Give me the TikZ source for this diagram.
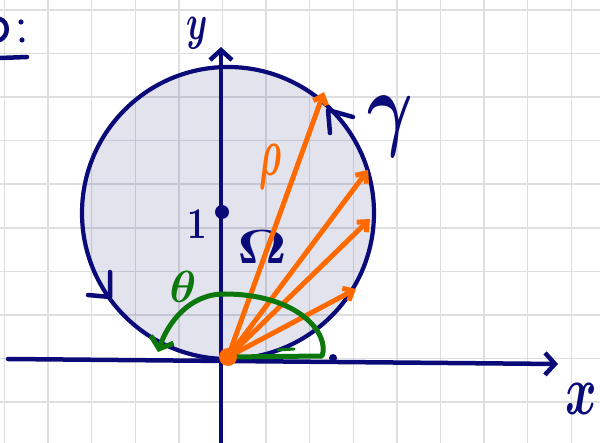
\documentclass[tikz,border=0pt]{standalone}
\usepackage{graphicx}
\usepackage{bm}
\usetikzlibrary{arrows.meta}
\definecolor{navy}{RGB}{10,10,120}
\definecolor{orng}{RGB}{255,106,0}
\definecolor{grn}{RGB}{12,120,12}
\definecolor{gridc}{RGB}{222,222,222}
\definecolor{disc}{RGB}{40,40,130}
\begin{document}
\begin{tikzpicture}[x=1pt,y=-1pt,line cap=round,line join=round,
  gridline/.style={gridc,line width=1.5pt},
  ax/.style={navy,line width=4.5pt,-{Straight Barb[length=10pt,width=22pt]}},
  ray/.style={orng,line width=5pt,-{Straight Barb[length=8pt,width=14pt]}},
  chev/.style={navy,line width=4.5pt},
  lbl/.style={inner sep=0pt}]
\useasboundingbox (0,0) rectangle (600,443);
\fill[white] (0,0) rectangle (600,443);
\foreach \k in {0,...,13} \draw[gridline] ({4.5+43.6*\k},0) -- ({4.5+43.6*\k},443);
\foreach \k in {0,...,9} \draw[gridline] (0,{10+43.56*\k}) -- (600,{10+43.56*\k});
% disc
\node[circle,draw=navy,line width=4.2pt,fill=disc,fill opacity=0.13,minimum size=292pt,inner sep=0pt] (gam) at (228,213) {};
% axes
\coordinate (xl) at (8,359);
\coordinate (xr) at (558,364);
\coordinate (yb) at (221,443);
\coordinate (yt) at (221,47);
\draw[ax] (xl) -- (xr);
\draw[ax] (yb) -- (yt);
\node[lbl,navy] (ylab) at (197,33) {\scalebox{3.4}[5]{$\bm{y}$}};
\node[lbl,navy] (xlab) at (581,399) {\scalebox{4.8}[7]{$\bm{x}$}};
% top-left fragment
\draw[chev] (0,19) .. controls (9,22) and (9,36) .. (0,40);
\fill[navy] (21,22) circle (2.6pt) (22,40) circle (2.6pt);
\draw[chev] (0,58) -- (27,57);
% orientation chevrons
\draw[chev] (88,295) -- (110,297) -- (110,272);
\draw[chev] (330,133) -- (328,110) -- (353,117);
% point 1
\fill[navy] (222,212) circle (7pt);
\node[lbl,navy] (one) at (197,224) {\scalebox{3.4}[4.4]{$\bm{1}$}};
\node[lbl,navy] (om) at (262,247) {\scalebox{6}[4.8]{$\bm{\Omega}$}};
\node[lbl,navy] (gl) at (390,127) {\scalebox{7}[9.5]{$\bm{\gamma}$}};
\fill[navy] (333,358) circle (4pt);
% rays
\coordinate (O) at (228,357);
\coordinate (p1) at (324,92);
\coordinate (p2) at (368,170);
\coordinate (p3) at (370,219);
\coordinate (p4) at (356,289);
\draw[ray] (O) -- (p1);
\draw[ray] (O) -- (p2);
\draw[ray] (O) -- (p3);
\draw[ray] (O) -- (p4);
\node[lbl,orng] (rho) at (271,167) {\scalebox{3.6}[7]{$\bm{\rho}$}};
% angle theta
\coordinate (g0) at (322,356);
\coordinate (g1) at (158,352);
\draw[grn,line width=5pt,-{Straight Barb[length=10pt,width=24pt]}] (O) -- (g0) .. controls (330,335) and (300,294) .. (224,294) .. controls (190,294) and (168,322) .. (g1);
\draw[grn,line width=3pt] (278,350) -- (294,349);
\node[lbl,grn] (th) at (183,287) {\scalebox{4.5}{$\bm{\theta}$}};
\fill[orng] (O) circle (9pt);
\end{tikzpicture}
\end{document}
